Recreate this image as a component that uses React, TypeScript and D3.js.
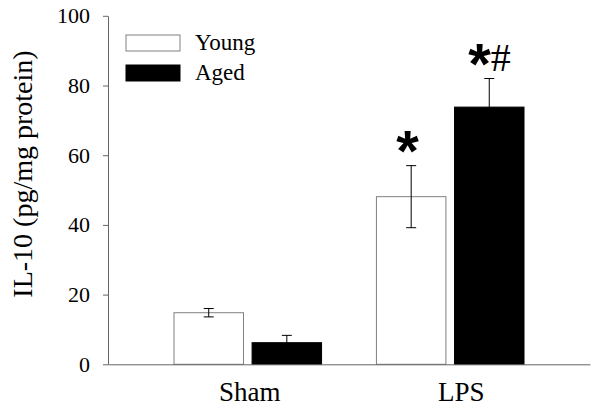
import { useEffect, useRef } from "react";
import * as d3 from "d3";

const groups = ["Sham", "LPS"];
const series = ["Young", "Aged"];
const youngMean = [14.8, 48.1];
const youngErr = [1.2, 8.9];
const agedMean = [6.2, 73.8];
const agedErr = [2.1, 8.2];
const yTicks = [0, 20, 40, 60, 80, 100];
const marks = ["*", "*#"]; // LPS young, LPS aged

export default function App() {
  const svgRef = useRef<SVGSVGElement>(null);

  useEffect(() => {
    const svg = d3.select(svgRef.current);
    svg.selectAll("*").remove();

    const serif = "Liberation Serif";
    const axisColor = "#666";

    const x0 = d3.scaleBand().domain(groups).range([108, 590]).paddingInner(0.271).paddingOuter(0.326);
    const x1 = d3.scaleBand().domain(series).range([0, x0.bandwidth()]).paddingInner(0.11);
    const y = d3.scaleLinear().domain([0, 100]).range([364.3, 15.8]);

    const rows = groups.flatMap((g, i) => [
      { g, s: "Young", v: youngMean[i], e: youngErr[i], fill: "#fff" },
      { g, s: "Aged", v: agedMean[i], e: agedErr[i], fill: "#000" },
    ]);

    // bars
    svg.append("g")
      .selectAll("rect")
      .data(rows)
      .enter()
      .append("rect")
      .attr("x", d => x0(d.g)! + x1(d.s)!)
      .attr("y", d => y(d.v))
      .attr("width", x1.bandwidth())
      .attr("height", d => y(0) - y(d.v))
      .attr("fill", d => d.fill)
      .attr("stroke", d => (d.s === "Young" ? "#808080" : "#000"))
      .attr("stroke-width", 1);

    // error bars
    const eb = svg.append("g").attr("stroke", "#000").attr("stroke-width", 1);
    rows.forEach(d => {
      const cx = x0(d.g)! + x1(d.s)! + x1.bandwidth() / 2;
      eb.append("line").attr("x1", cx).attr("x2", cx).attr("y1", y(d.v - d.e)).attr("y2", y(d.v + d.e));
      eb.append("line").attr("x1", cx - 5).attr("x2", cx + 5).attr("y1", y(d.v + d.e)).attr("y2", y(d.v + d.e));
      eb.append("line").attr("x1", cx - 5).attr("x2", cx + 5).attr("y1", y(d.v - d.e)).attr("y2", y(d.v - d.e));
    });

    // significance marks over LPS bars
    const lps = rows.filter(d => d.g === "LPS");
    lps.forEach((d, i) => {
      const cx = x0(d.g)! + x1(d.s)! + x1.bandwidth() / 2;
      const t = svg.append("text")
        .attr("x", cx - (i === 1 ? 21 : 15))
        .attr("y", y(d.v + d.e) + 5)
        .attr("fill", "#000");
      t.append("tspan")
        .attr("font-family", "Liberation Sans")
        .attr("font-weight", "bold")
        .attr("font-size", 58)
        .text(marks[i][0]);
      if (marks[i].length > 1) {
        t.append("tspan")
          .attr("font-family", serif)
          .attr("font-size", 40)
          .attr("dx", 0)
          .attr("dy", -13)
          .text(marks[i].slice(1));
      }
    });

    // y axis
    const yAxis = svg.append("g")
      .attr("transform", "translate(108,0)")
      .call(d3.axisLeft(y).tickValues(yTicks).tickSize(5).tickSizeOuter(0).tickPadding(13))
      .attr("font-family", serif)
      .attr("font-size", 22);
    yAxis.selectAll("path,line").attr("stroke", axisColor);
    yAxis.selectAll("text").style("font-family", serif).style("font-size", "22px").attr("fill", "#000");

    // x axis
    const xAxis = svg.append("g")
      .attr("transform", `translate(0,${y(0)})`)
      .call(d3.axisBottom(x0).tickSize(0).tickSizeOuter(0).tickPadding(18))
      .attr("font-family", serif)
      .attr("font-size", 27);
    xAxis.select("path").attr("stroke", axisColor);
    xAxis.selectAll("text")
      .style("font-family", serif)
      .style("font-size", "27px")
      .attr("fill", "#000")
      .attr("dx", (_, i) => (i === 1 ? 11 : 2));

    // y title
    svg.append("text")
      .attr("transform", "translate(32,174) rotate(-90)")
      .attr("text-anchor", "middle")
      .attr("font-family", serif)
      .attr("font-size", 28)
      .text("IL-10 (pg/mg protein)");

    // legend
    const lg = svg.append("g");
    series.forEach((s, i) => {
      lg.append("rect")
        .attr("x", 126).attr("y", 35 + i * 30)
        .attr("width", 54).attr("height", 16)
        .attr("fill", i === 0 ? "#fff" : "#000")
        .attr("stroke", i === 0 ? "#808080" : "#000");
      lg.append("text")
        .attr("x", 195).attr("y", 49.5 + i * 30.5)
        .attr("font-family", serif)
        .attr("font-size", 23)
        .text(s);
    });
  }, []);

  return (
    <svg ref={svgRef} width={601} height={407}
      style={{ position: "absolute", left: 0, top: 0, background: "#fff" }}></svg>
  );
}
